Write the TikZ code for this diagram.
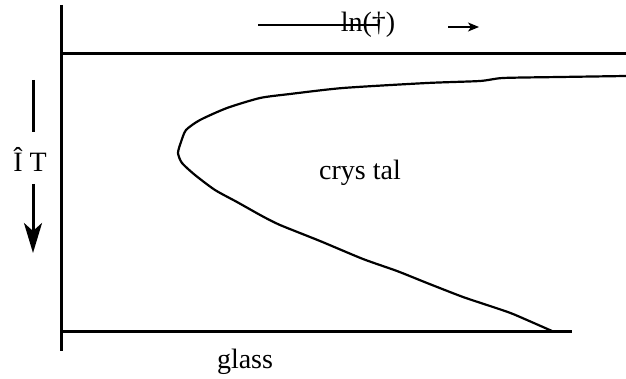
\documentclass[tikz,border=0pt]{standalone}
\usepackage{fontspec}
\setmainfont{Liberation Serif}
\usetikzlibrary{arrows.meta}
\begin{document}
\begin{tikzpicture}[x=1pt,y=-1pt,
  axis/.style={line width=3pt},
  curveline/.style={line width=2.2pt,line join=round,line cap=round},
  lbl/.style={font=\fontsize{28}{30}\selectfont,inner sep=0pt},
  thin/.style={line width=1.6pt}]
\useasboundingbox (0,0) rectangle (626,379);
% axes
\coordinate (vtop) at (61,5);
\coordinate (vbot) at (61,351);
\draw[axis] (vtop) -- (vbot);
\coordinate (tl) at (63,54);
\coordinate (tr) at (626,54);
\draw[axis] (tl) -- (tr);
\coordinate (bl) at (61,331);
\coordinate (br) at (572,331);
\draw[axis] (bl) -- (br);
% boundary curve
\draw[curveline] plot[smooth,tension=0.4] coordinates {(626,76) (560,77) (503,78) (480,81) (427,83)
  (343,88) (290,94) (260,98) (227,108) (200,120) (186,130)
  (181,142) (178,153) (182,163) (195,175) (215,190)
  (237,202) (262,216) (280,225) (320,241) (363,259)
  (397,271) (427,283) (463,297) (493,307) (513,314) (552,331)};
% labels
\node[lbl] (ln) at (368,25) {ln(†)};
\coordinate (ls) at (258,25);
\coordinate (le) at (378,25);
\draw[thin] (ls) -- (le);
\coordinate (as) at (448,27);
\coordinate (ae) at (479,27);
\draw[thin,-{Stealth[length=11pt,width=9pt,inset=3pt]}] (as) -- (ae);
\node[lbl] (dT) at (30,159) {Î T};
\coordinate (u1) at (33,80);
\coordinate (u2) at (33,132);
\draw[axis] (u1) -- (u2);
\coordinate (d1) at (33,184);
\coordinate (d2) at (33,253);
\draw[axis,-{Stealth[length=30pt,width=18pt,inset=8pt]}] (d1) -- (d2);
\node[lbl] (crys) at (360,173) {crys tal};
\node[lbl] (glass) at (245,362) {glass};
\end{tikzpicture}
\end{document}
